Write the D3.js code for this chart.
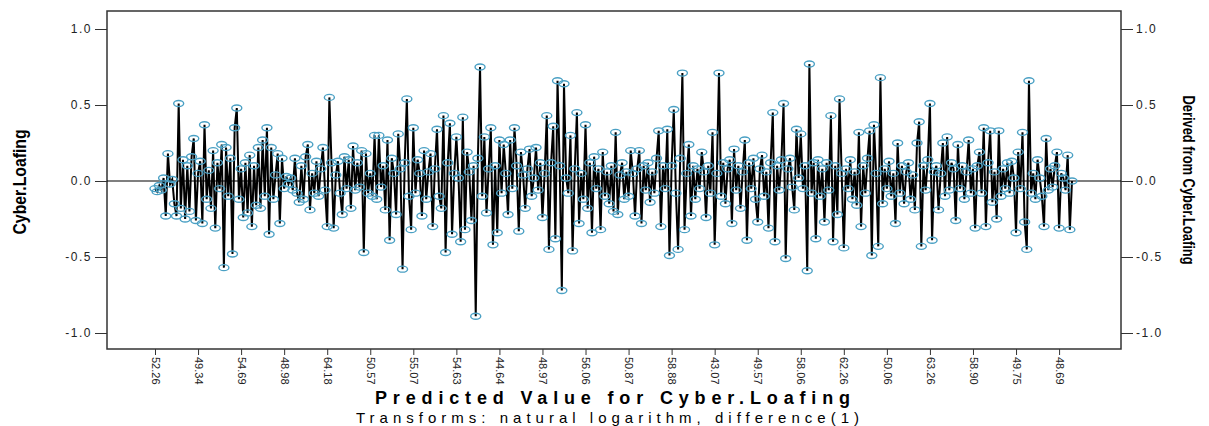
<!DOCTYPE html>
<html lang="en">
<head>
    <meta charset="UTF-8">
    <title>Cyber.Loafing sequence</title>
    <style>
        body {
            margin: 0;
            padding: 0;
            background-color: #ffffff;
            font-family: "Liberation Sans", Arial, sans-serif;
        }
        svg { display: block; }
        .tick text { fill: #222; }
    </style>
</head>
<body>
    <svg width="1209" height="426"></svg>

    <script src="https://d3js.org/d3.v7.min.js"></script>
    <script>
        // values, 20 points between each labelled tick
        let values = [
            -0.05,-0.07,-0.03,-0.06,0.02,-0.23,0.18,-0.02,0.01,-0.15,-0.23,0.51,-0.18,0.14,-0.25,0.10,-0.20,0.16,0.28,-0.26,
            0.05,0.13,-0.28,0.37,-0.12,0.07,-0.18,0.20,-0.31,0.12,-0.05,0.24,-0.57,0.22,-0.10,0.15,-0.48,0.35,0.48,-0.12,
            0.08,-0.24,0.12,-0.21,0.17,-0.30,0.10,-0.16,0.22,-0.18,0.27,-0.10,0.35,-0.35,0.22,-0.12,0.04,0.18,-0.28,0.15,
            -0.05,0.03,-0.02,0.02,-0.06,0.15,-0.08,-0.14,0.10,-0.12,0.16,0.24,-0.19,0.05,-0.08,0.13,-0.10,0.08,0.22,-0.06,
            -0.30,0.55,0.12,-0.31,0.04,0.13,-0.08,-0.22,0.16,-0.05,0.14,-0.18,0.23,-0.06,0.12,-0.04,0.20,-0.47,0.18,-0.08,
            0.05,-0.10,0.30,-0.12,0.30,-0.04,0.10,-0.19,0.27,-0.39,0.15,0.05,-0.22,0.31,0.08,-0.58,0.12,0.54,-0.10,-0.32,
            0.35,-0.08,0.14,0.05,-0.23,0.20,-0.12,0.06,0.18,-0.30,0.08,0.34,-0.10,-0.18,0.43,-0.47,0.12,0.38,-0.35,0.05,
            0.29,0.02,-0.40,0.42,-0.32,0.19,0.06,-0.26,0.10,-0.89,0.15,0.75,-0.10,0.29,-0.21,0.08,0.35,-0.42,0.10,-0.34,
            0.27,-0.08,0.24,0.05,-0.22,0.27,-0.05,0.35,0.10,-0.33,0.19,0.04,-0.18,0.08,0.21,-0.10,0.02,0.22,-0.06,0.12,
            -0.24,0.05,0.43,-0.45,0.12,0.36,-0.38,0.66,0.10,-0.72,0.64,0.02,-0.08,0.30,-0.46,0.08,0.45,-0.28,0.05,-0.12,
            0.37,-0.18,0.12,-0.34,0.16,-0.05,0.08,-0.32,0.19,-0.10,0.06,-0.15,0.10,-0.20,0.32,-0.22,0.04,0.12,-0.12,0.06,
            -0.10,0.20,0.05,-0.23,0.08,0.20,-0.28,0.10,-0.06,0.12,-0.14,0.06,-0.08,0.15,0.33,-0.30,0.10,-0.05,0.34,-0.49,
            0.10,0.47,-0.08,-0.45,0.15,0.71,-0.32,0.05,0.24,-0.23,0.10,-0.12,0.08,-0.05,0.19,0.06,-0.24,0.10,-0.08,0.32,
            -0.42,0.05,0.71,-0.10,0.12,-0.15,0.08,0.14,-0.28,0.21,-0.06,0.10,-0.18,0.06,0.27,-0.39,0.12,-0.05,0.15,-0.12,
            -0.27,0.08,0.17,-0.10,0.06,-0.31,0.12,0.45,-0.40,0.10,-0.06,0.14,0.51,-0.51,0.08,0.15,-0.04,-0.19,0.34,0.02,
            0.31,-0.05,0.10,-0.59,0.77,-0.08,0.12,-0.38,0.14,-0.10,0.08,-0.27,0.12,-0.06,0.43,-0.40,0.10,-0.22,0.54,0.05,
            -0.44,0.08,-0.05,0.14,-0.12,0.06,-0.16,0.32,-0.30,0.10,-0.08,0.15,0.33,-0.49,0.37,0.05,-0.43,0.68,-0.15,0.08,
            -0.05,0.13,-0.10,0.05,-0.28,0.25,-0.08,0.10,-0.15,0.06,0.12,-0.12,0.04,-0.19,0.25,0.39,-0.43,0.10,-0.06,0.14,
            0.51,-0.39,0.06,0.10,-0.19,0.05,0.25,-0.10,0.29,-0.06,0.12,0.08,-0.26,0.24,-0.05,0.10,-0.12,0.06,0.27,-0.08,
            0.08,-0.31,0.10,0.19,-0.08,0.35,-0.30,0.12,0.33,-0.14,0.06,-0.25,0.33,-0.10,0.08,-0.05,0.12,-0.08,0.13,0.02,
            -0.34,0.19,-0.05,0.32,-0.27,-0.45,0.66,-0.08,0.05,-0.12,0.14,0.02,-0.10,-0.30,0.28,-0.06,0.08,-0.04,0.10,0.19,
            -0.31,0.05,0.02,-0.06,0.17,-0.32,0.00
        ];

        // category labels shown on the x axis (every 20th case)
        let xLabels = ["52.26","49.34","54.69","48.98","64.18","50.57","55.07","54.63","44.64","48.97","56.06",
                       "50.87","58.88","43.07","49.57","58.06","62.26","50.06","63.26","58.90","49.75","48.69"];
        let labelStep = 20;

        let yTicks = [-1.0, -0.5, 0.0, 0.5, 1.0];

        let frame = {left: 107, right: 1121, top: 11, bottom: 349};

        let svg = d3.select("svg");

        let x = d3.scaleLinear()
            .domain([0, values.length - 1])
            .range([155, 1072]);

        let y = d3.scaleLinear()
            .domain([-1, 1])
            .range([333, 29]);

        // left axis
        let leftAxis = svg.append("g")
            .attr("transform", "translate(" + frame.left + ",0)")
            .call(d3.axisLeft(y).tickValues(yTicks).tickSize(12).tickSizeOuter(0).tickPadding(3)
                .tickFormat(d => d.toFixed(1)));
        leftAxis.select(".domain").remove();
        leftAxis.selectAll("text").style("font-size", "12px").style("letter-spacing", "1.5px");
        leftAxis.selectAll("line").attr("stroke", "#333");

        // right axis
        let rightAxis = svg.append("g")
            .attr("transform", "translate(" + frame.right + ",0)")
            .call(d3.axisRight(y).tickValues(yTicks).tickSize(12).tickSizeOuter(0).tickPadding(3)
                .tickFormat(d => d.toFixed(1)));
        rightAxis.select(".domain").remove();
        rightAxis.selectAll("text").style("font-size", "12px").style("letter-spacing", "1.5px");
        rightAxis.selectAll("line").attr("stroke", "#333");

        // bottom axis, labels turned to read downward
        let bottomAxis = svg.append("g")
            .attr("transform", "translate(0," + frame.bottom + ")")
            .call(d3.axisBottom(x)
                .tickValues(xLabels.map((d, i) => i * labelStep))
                .tickFormat((d, i) => xLabels[i])
                .tickSize(6).tickSizeOuter(0));
        bottomAxis.select(".domain").remove();
        bottomAxis.selectAll("line").attr("stroke", "#333");
        bottomAxis.selectAll("text")
            .attr("transform", "rotate(90)")
            .attr("x", 8)
            .attr("y", 0)
            .attr("dy", "0.35em")
            .style("text-anchor", "start")
            .style("font-size", "11px");

        // frame of the plot
        svg.append("rect")
            .attr("x", frame.left)
            .attr("y", frame.top)
            .attr("width", frame.right - frame.left)
            .attr("height", frame.bottom - frame.top)
            .attr("fill", "none")
            .attr("stroke", "#333")
            .attr("stroke-width", 1.5);

        // reference line at zero
        svg.append("line")
            .attr("x1", frame.left)
            .attr("x2", frame.right)
            .attr("y1", y(0))
            .attr("y2", y(0))
            .attr("stroke", "black")
            .attr("stroke-width", 1.2);

        // series line
        let line = d3.line()
            .x((d, i) => x(i))
            .y(d => y(d));

        svg.append("path")
            .datum(values)
            .attr("d", line)
            .attr("fill", "none")
            .attr("stroke", "black")
            .attr("stroke-width", 2);

        // markers
        svg.append("g")
            .selectAll("ellipse")
            .data(values)
            .enter()
            .append("ellipse")
            .attr("cx", (d, i) => x(i))
            .attr("cy", d => y(d))
            .attr("rx", 5)
            .attr("ry", 3)
            .attr("fill", "none")
            .attr("stroke", "#4aa0c4")
            .attr("stroke-width", 1.4);

        // axis titles (narrow bold, squeezed along the text)
        svg.append("text")
            .attr("transform", "translate(19,182) rotate(-90) scale(0.83,1)")
            .attr("text-anchor", "middle")
            .attr("dy", "0.35em")
            .style("font-weight", "bold")
            .style("font-size", "19px")
            .text("Cyber.Loafing");

        svg.append("text")
            .attr("transform", "translate(1189,180) rotate(90) scale(0.76,1)")
            .attr("text-anchor", "middle")
            .attr("dy", "0.35em")
            .style("font-weight", "bold")
            .style("font-size", "17px")
            .text("Derived from Cyber.Loafing");

        svg.append("text")
            .attr("x", 375)
            .attr("y", 404)
            .attr("textLength", 475)
            .attr("lengthAdjust", "spacing")
            .style("font-weight", "900")
            .style("font-size", "18px")
            .text("Predicted Value for Cyber.Loafing");

        svg.append("text")
            .attr("x", 356)
            .attr("y", 423)
            .attr("textLength", 503)
            .attr("lengthAdjust", "spacing")
            .style("font-size", "15px")
            .text("Transforms: natural logarithm, difference(1)");
    </script>
</body>
</html>
